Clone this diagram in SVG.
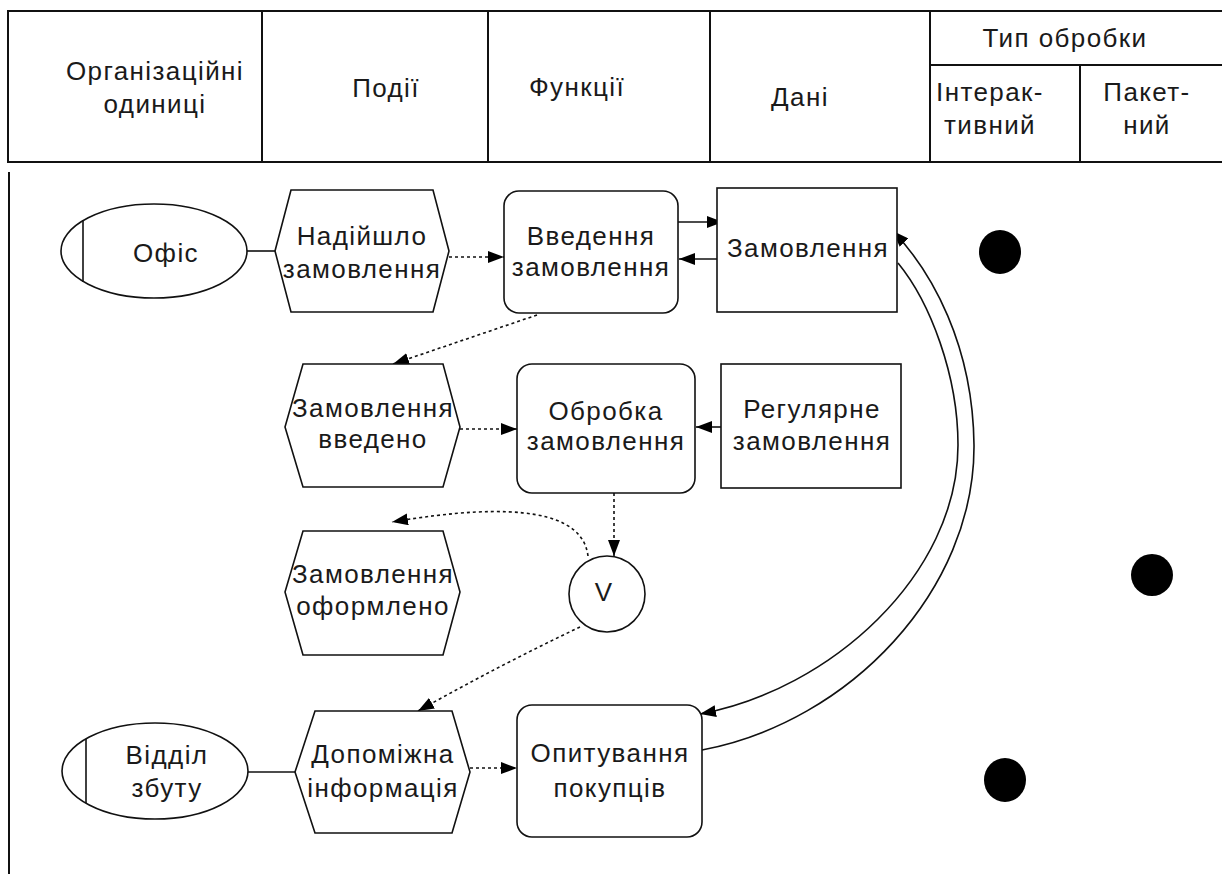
<svg xmlns="http://www.w3.org/2000/svg" width="1222" height="874" viewBox="0 0 1222 874">
  <defs>
    <marker id="arrow" viewBox="0 0 16 12" refX="16" refY="6" markerWidth="16" markerHeight="12" markerUnits="userSpaceOnUse" orient="auto">
      <path d="M0,0 L16,6 L0,12 z" fill="#000"/>
    </marker>
    <style>
      .t { font-family: "Liberation Sans", Arial, sans-serif; font-size: 26px; fill: #1a1a1a; text-anchor: middle; letter-spacing: 1.4px; }
      .shape { fill: #fff; stroke: #111; stroke-width: 1.6; }
      .grid { fill: none; stroke: #111; stroke-width: 2; }
      .solid { fill: none; stroke: #111; stroke-width: 1.6; }
      .dot { fill: none; stroke: #111; stroke-width: 1.6; stroke-dasharray: 3 3; }
      .mark { fill: #000; }
    </style>
  </defs>

  <rect width="1222" height="874" fill="#fff"/>

  <!-- header table -->
  <g id="header">
    <rect class="grid" x="8" y="11" width="1220" height="151"/>
    <line class="grid" x1="262" y1="11" x2="262" y2="162"/>
    <line class="grid" x1="488" y1="11" x2="488" y2="162"/>
    <line class="grid" x1="710" y1="11" x2="710" y2="162"/>
    <line class="grid" x1="930" y1="11" x2="930" y2="162"/>
    <line class="grid" x1="930" y1="65" x2="1222" y2="65"/>
    <line class="grid" x1="1080" y1="65" x2="1080" y2="162"/>
    <text class="t" x="155" y="80">Організаційні</text>
    <text class="t" x="155" y="113">одиниці</text>
    <text class="t" x="386" y="97">Події</text>
    <text class="t" x="577" y="96">Функції</text>
    <text class="t" x="800" y="106">Дані</text>
    <text class="t" x="1065" y="47">Тип обробки</text>
    <text class="t" x="990" y="101">Інтерак-</text>
    <text class="t" x="990" y="134">тивний</text>
    <text class="t" x="1147" y="101">Пакет-</text>
    <text class="t" x="1147" y="134">ний</text>
  </g>

  <!-- left border of the body -->
  <line class="grid" x1="9" y1="172" x2="9" y2="874"/>

  <!-- connectors -->
  <g id="connectors">
    <line class="solid" x1="247" y1="251" x2="275" y2="251"/>
    <line class="solid" x1="248" y1="772" x2="295" y2="772"/>
    <line class="dot" x1="449" y1="257" x2="504" y2="257" marker-end="url(#arrow)"/>
    <line class="solid" x1="678" y1="222" x2="723" y2="222" marker-end="url(#arrow)"/>
    <line class="solid" x1="717" y1="259" x2="679" y2="259" marker-end="url(#arrow)"/>
    <line class="dot" x1="537" y1="315" x2="393" y2="364" marker-end="url(#arrow)"/>
    <line class="dot" x1="460" y1="429" x2="517" y2="429" marker-end="url(#arrow)"/>
    <line class="solid" x1="721" y1="427" x2="696" y2="427" marker-end="url(#arrow)"/>
    <line class="dot" x1="614" y1="493" x2="614" y2="556" marker-end="url(#arrow)"/>
    <path class="dot" d="M588,556 Q580,490 392,522" marker-end="url(#arrow)"/>
    <path class="dot" d="M580,627 Q500,665 418,711" marker-end="url(#arrow)"/>
    <line class="dot" x1="470" y1="768" x2="517" y2="768" marker-end="url(#arrow)"/>
    <!-- double link between the order data and the customer survey -->
    <path class="solid" d="M702,750 C850,722 975,590 974,445 C973,345 932,272 893,231" marker-end="url(#arrow)"/>
    <path class="solid" d="M898,263 C930,302 958,375 958,445 C958,575 830,690 700,714" marker-end="url(#arrow)"/>
  </g>

  <!-- organisational units -->
  <g id="office">
    <ellipse class="shape" cx="154" cy="251" rx="93" ry="47"/>
    <line class="solid" x1="83" y1="220" x2="83" y2="282"/>
    <text class="t" x="166" y="262">Офіс</text>
  </g>
  <g id="sales">
    <ellipse class="shape" cx="155" cy="771" rx="93" ry="48"/>
    <line class="solid" x1="86" y1="739" x2="86" y2="803"/>
    <text class="t" x="167" y="764">Відділ</text>
    <text class="t" x="167" y="797">збуту</text>
  </g>

  <!-- events -->
  <g id="ev-order-arrived">
    <polygon class="shape" points="291,190 433,190 449,251 433,312 291,312 275,251"/>
    <text class="t" x="362" y="245">Надійшло</text>
    <text class="t" x="362" y="278">замовлення</text>
  </g>
  <g id="ev-order-entered">
    <polygon class="shape" points="303,364 443,364 460,427 443,487 303,487 285,427"/>
    <text class="t" x="373" y="417">Замовлення</text>
    <text class="t" x="373" y="448">введено</text>
  </g>
  <g id="ev-order-done">
    <polygon class="shape" points="303,531 443,531 460,592 443,655 303,655 285,592"/>
    <text class="t" x="373" y="583">Замовлення</text>
    <text class="t" x="373" y="615">оформлено</text>
  </g>
  <g id="ev-extra-info">
    <polygon class="shape" points="315,711 452,711 470,772 452,833 315,833 295,772"/>
    <text class="t" x="383" y="763">Допоміжна</text>
    <text class="t" x="383" y="797">інформація</text>
  </g>

  <!-- functions -->
  <g id="fn-entry">
    <rect class="shape" x="504" y="191" width="174" height="122" rx="15"/>
    <text class="t" x="591" y="245">Введення</text>
    <text class="t" x="591" y="276">замовлення</text>
  </g>
  <g id="fn-processing">
    <rect class="shape" x="517" y="364" width="178" height="129" rx="15"/>
    <text class="t" x="606" y="420">Обробка</text>
    <text class="t" x="606" y="450">замовлення</text>
  </g>
  <g id="fn-survey">
    <rect class="shape" x="517" y="705" width="185" height="132" rx="15"/>
    <text class="t" x="610" y="762">Опитування</text>
    <text class="t" x="610" y="797">покупців</text>
  </g>

  <!-- OR connector -->
  <g id="or">
    <circle class="shape" cx="607" cy="594" r="38"/>
    <text class="t" x="604" y="601">V</text>
  </g>

  <!-- data -->
  <g id="data-order">
    <rect class="shape" x="717" y="188" width="180" height="124"/>
    <text class="t" x="808" y="257">Замовлення</text>
  </g>
  <g id="data-regular">
    <rect class="shape" x="721" y="364" width="180" height="124"/>
    <text class="t" x="812" y="418">Регулярне</text>
    <text class="t" x="812" y="450">замовлення</text>
  </g>

  <!-- processing type marks -->
  <g id="marks">
    <ellipse class="mark" cx="1000" cy="252" rx="21" ry="22"/>
    <ellipse class="mark" cx="1152" cy="575" rx="21" ry="21"/>
    <ellipse class="mark" cx="1005" cy="780" rx="21" ry="22"/>
  </g>
</svg>
